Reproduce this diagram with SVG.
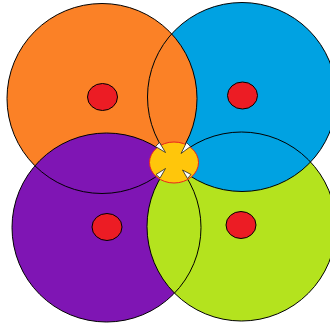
<svg xmlns="http://www.w3.org/2000/svg" width="330" height="324" viewBox="0 0 330 324">
  <style>
    .ring { fill: none; stroke: #000; stroke-width: 1; }
    .dot { fill: #EC1C24; stroke: #000; stroke-width: 1; }
    .tip { fill: #fff; stroke: #222; stroke-width: 0.8; stroke-linejoin: round; }
  </style>
  <defs>
    <clipPath id="blueClip"><circle cx="242" cy="97" r="94.5"/></clipPath>
  </defs>
  <rect width="330" height="324" fill="#fff"/>
  <g id="orange">
    <circle cx="102" cy="98.5" r="95" fill="#FB8126"/>
  </g>
  <g id="purple">
    <circle cx="106.5" cy="227.5" r="94.5" fill="#7F15B4"/>
  </g>
  <g id="green">
    <circle cx="241.5" cy="226.5" r="94.5" fill="#B4E31E"/>
  </g>
  <g id="blue">
    <circle cx="242" cy="97" r="94.5" fill="#00A2E2"/>
  </g>
  <g id="overlap">
    <circle cx="102" cy="98.5" r="95" fill="#FB8126" clip-path="url(#blueClip)"/>
  </g>
  <g id="connectors">
    <circle class="ring" cx="102" cy="98.5" r="95"/>
    <circle class="ring" cx="242" cy="97" r="94.5"/>
    <circle class="ring" cx="106.5" cy="227.5" r="94.5"/>
    <circle class="ring" cx="241.5" cy="226.5" r="94.5"/>
  </g>
  <g id="dots">
    <ellipse class="dot" cx="102.5" cy="97" rx="15" ry="13.5"/>
    <ellipse class="dot" cx="242.5" cy="95.5" rx="15" ry="13.5"/>
    <ellipse class="dot" cx="107" cy="227" rx="15" ry="13.5"/>
    <ellipse class="dot" cx="241" cy="225" rx="15" ry="13.5"/>
  </g>
  <g id="center">
    <ellipse cx="174" cy="162.5" rx="24.5" ry="20.5" fill="#FFC60B" stroke="#E8251F" stroke-width="1"/>
    <polygon class="tip" points="155.5,146.5 159.5,142.5 165.5,152.5"/>
    <polygon class="tip" points="186.5,142.5 190.5,146.5 181,153.5"/>
    <polygon class="tip" points="156,174.5 160,178 165.5,168.5"/>
    <polygon class="tip" points="187.5,178.5 191,174.5 182.5,170"/>
  </g>
</svg>
